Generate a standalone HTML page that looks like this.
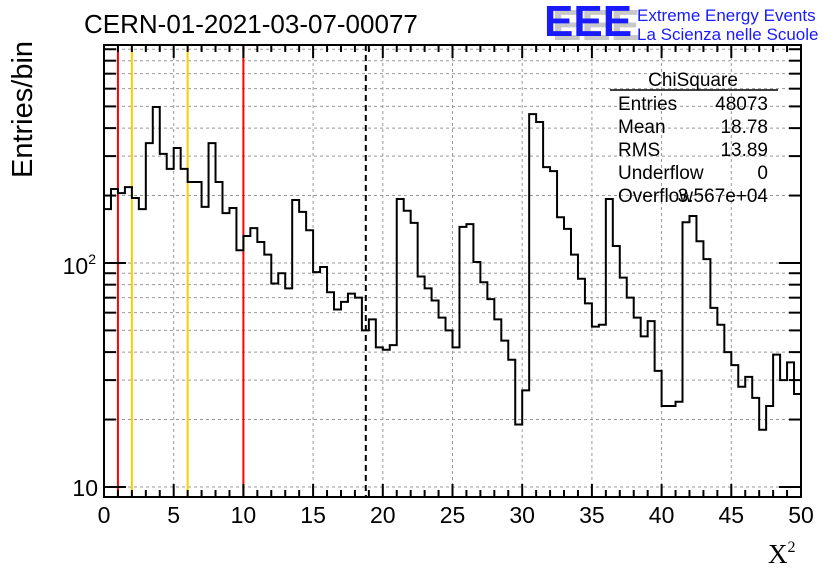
<!DOCTYPE html>
<html><head><meta charset="utf-8">
<style>
html,body{margin:0;padding:0;background:#fff;}
svg{display:block;font-family:"Liberation Sans",sans-serif;}
</style></head>
<body>
<svg id="c" width="836" height="572" viewBox="0 0 836 572">
<rect width="836" height="572" fill="#fff"/>
<g id="grid"></g>
<g id="vlines"></g>
<path id="hist" fill="none" stroke="#000" stroke-width="2"/>
<g id="ticks"></g>
<rect x="104" y="45" width="697" height="452" fill="none" stroke="#000" stroke-width="2"/>
<g id="labels"></g>
<text x="84" y="33" font-size="26">CERN-01-2021-03-07-00077</text>
<text transform="translate(32,178) rotate(-90)" font-size="29">Entries/bin</text>
<text x="768" y="563" font-size="27" font-family="Liberation Serif,serif">X<tspan font-size="16" dy="-11">2</tspan></text>
<g>
<text x="552" y="40" font-size="44" font-weight="bold" fill="#c8c8c8">EEE</text>
<text x="544" y="36" font-size="44" font-weight="bold" fill="#1a1aff">EEE</text>
<text x="637" y="21" font-size="17" fill="#1a1aff">Extreme Energy Events</text>
<text x="637" y="40" font-size="17" fill="#1a1aff">La Scienza nelle Scuole</text>
</g>
<g font-size="19">
<text x="693" y="86" text-anchor="middle">ChiSquare</text>
<line x1="610" y1="90" x2="778" y2="90" stroke="#000" stroke-width="1.5"/>
<text x="618" y="110">Entries</text><text x="768" y="110" text-anchor="end">48073</text>
<text x="618" y="133">Mean</text><text x="768" y="133" text-anchor="end">18.78</text>
<text x="618" y="156">RMS</text><text x="768" y="156" text-anchor="end">13.89</text>
<text x="618" y="179">Underflow</text><text x="768" y="179" text-anchor="end">0</text>
<text x="618" y="202">Overflow</text><text x="768" y="202" text-anchor="end">3.567e+04</text>
</g>
</svg>
<script>
const binEdges0 = 0, binWidth = 0.5;
const counts = [174,214,205,218,195,174,343,497,307,263,326,263,230,230,178,343,230,167,176,114,
132,143,124,109,81,90,77,191,169,140,91,96,74,62,67,73,70,50,56,42,
41,43,193,171,151,87,77,68,57,50,42,145,149,101,82,69,56,45,37,19,
27,462,426,268,257,160,142,109,85,66,52,53,193,119,86,70,57,47,55,33,
23,23,24,152,162,125,104,63,53,40,35,28,31,25,18,23,39,30,36,26];
const xTicks = [0,5,10,15,20,25,30,35,40,45,50];
const redLines = [1,10];
const yellowLines = [2,6];
const meanLine = [18.78];
const X0=104,X1=801,Y0=45,Y1=497, xmin=0,xmax=50, ymin=9.02, ymax=940;
const sx=v=>X0+(v-xmin)/(xmax-xmin)*(X1-X0);
const sy=v=>Y1-(Math.log10(v)-Math.log10(ymin))/(Math.log10(ymax)-Math.log10(ymin))*(Y1-Y0);
const NS="http://www.w3.org/2000/svg";
function mk(tag,attrs,parent){const e=document.createElementNS(NS,tag);for(const k in attrs)e.setAttribute(k,attrs[k]);document.getElementById(parent).appendChild(e);return e;}
for(let d=1;d<=2;d++){for(let m=1;m<=9;m++){const v=m*Math.pow(10,d);if(v<ymin||v>ymax)continue;const y=sy(v);
const g=mk('line',{x1:X0,x2:X1,y1:y,y2:y,stroke:'#999','stroke-dasharray':'3,3','stroke-width':1},'grid');


const t1=mk('line',{x1:X0,x2:X0+(m==1?22:12),y1:y,y2:y,stroke:'#000','stroke-width':2},'ticks');


const t2=mk('line',{x1:X1-(m==1?22:12),x2:X1,y1:y,y2:y,stroke:'#000','stroke-width':2},'ticks');

}}
xTicks.forEach(v=>{const x=sx(v);
if(v>0&&v<50){const g=mk('line',{x1:x,x2:x,y1:Y0,y2:Y1,stroke:'#999','stroke-dasharray':'3,3','stroke-width':1},'grid');

}
const t=mk('text',{x:x,y:523,'font-size':23,'text-anchor':'middle'},'labels');t.textContent=v;

});
for(let v=0;v<=50;v++){const x=sx(v),L=v%5==0?13:7;
const a=mk('line',{x1:x,x2:x,y1:Y1,y2:Y1-L,stroke:'#000','stroke-width':2},'ticks');


const b=mk('line',{x1:x,x2:x,y1:Y0,y2:Y0+L,stroke:'#000','stroke-width':2},'ticks');

}
const l1=mk('text',{x:98,y:496,'font-size':23,'text-anchor':'end'},'labels');l1.textContent='10';


const l2=mk('text',{x:96,y:274,'font-size':23,'text-anchor':'end'},'labels');l2.innerHTML='10<tspan font-size="14" dy="-10">2</tspan>';


redLines.forEach(v=>{const e=mk('line',{x1:sx(v),x2:sx(v),y1:Y0,y2:Y1,stroke:'#f00','stroke-width':2},'vlines');

});
yellowLines.forEach(v=>{const e=mk('line',{x1:sx(v),x2:sx(v),y1:Y0,y2:Y1,stroke:'#fc0','stroke-width':2},'vlines');

});
meanLine.forEach(v=>{const e=mk('line',{x1:sx(v),x2:sx(v),y1:Y0,y2:Y1,stroke:'#000','stroke-width':2,'stroke-dasharray':'6,4'},'vlines');

});
let d='';counts.forEach((c,i)=>{const xa=sx(binEdges0+i*binWidth),xb=sx(binEdges0+(i+1)*binWidth),y=sy(c);
d+=(i==0?'M':'L')+xa+','+y+'L'+xb+','+y;});
document.getElementById('hist').setAttribute('d',d);
</script>
</body></html>
